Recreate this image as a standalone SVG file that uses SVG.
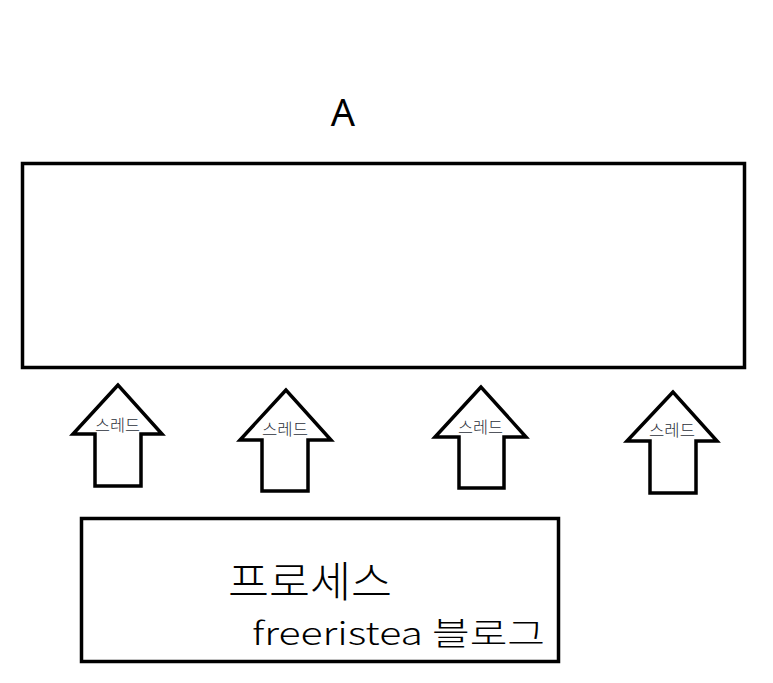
<svg xmlns="http://www.w3.org/2000/svg" width="773" height="683" viewBox="0 0 773 683">
<style>
.box{fill:#fff;stroke:#000;stroke-width:3.5}
.arrow{fill:#fff;stroke:#000;stroke-width:3.5;stroke-linejoin:miter}
.lbl{font-family:"Noto Sans CJK KR","Noto Sans",sans-serif;font-size:16px;font-weight:300;fill:#2b2f3a}
.big{font-family:"Noto Sans CJK KR","Noto Sans",sans-serif;font-weight:300;fill:#000}
</style>
<rect width="773" height="683" fill="#fff"/>
<g id="label-A"><text x="343" y="126" text-anchor="middle" font-family="Noto Sans, sans-serif" font-size="38" fill="#000">A</text></g>
<g id="box-A"><rect class="box" x="22.5" y="163.5" width="722" height="204"/></g>
<g id="connectors">
<g id="thread1"><polygon class="arrow" points="118,385 73,434 95,434 95,486 141,486 141,434 162,434"/><text class="lbl" x="95" y="431" textLength="45" lengthAdjust="spacingAndGlyphs">스레드</text></g>
<g id="thread2"><polygon class="arrow" points="286,390 240,440 262,440 262,491 308,491 308,440 331,440"/><text class="lbl" x="262" y="435" textLength="46" lengthAdjust="spacingAndGlyphs">스레드</text></g>
<g id="thread3"><polygon class="arrow" points="481,387 435,437 459,437 459,488 504,488 504,437 526,437"/><text class="lbl" x="458" y="433" textLength="45" lengthAdjust="spacingAndGlyphs">스레드</text></g>
<g id="thread4"><polygon class="arrow" points="673,392 627,441 650,441 650,493 696,493 696,441 717,441"/><text class="lbl" x="649" y="436" textLength="46" lengthAdjust="spacingAndGlyphs">스레드</text></g>
</g>
<g id="process">
<rect class="box" x="81.5" y="518.5" width="477" height="143"/>
<text class="big" x="228" y="597" font-size="42" textLength="164" lengthAdjust="spacingAndGlyphs">프로세스</text>
<text class="big" x="252" y="645" font-size="32" textLength="293" lengthAdjust="spacingAndGlyphs">freeristea 블로그</text>
</g>
</svg>
